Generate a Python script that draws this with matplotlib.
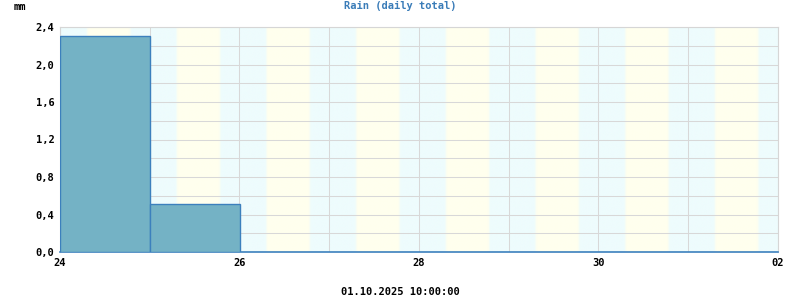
import numpy as np
import matplotlib.pyplot as plt

# daily rain totals, day 0 = 24.09.2025
rain_days = [0, 1]
rain_mm = [2.3, 0.51]
tick_pos = [0, 2, 4, 6, 8]
tick_labels = ["24", "26", "28", "30", "02"]
y_ticks = [0.0, 0.4, 0.8, 1.2, 1.6, 2.0, 2.4]
sunrise_h = 7.2
sunset_h = 18.8
n_days = 8

mono = "DejaVu Sans Mono"

fig = plt.figure(figsize=(8, 3), dpi=100)
ax = fig.add_axes([0.075, 0.16, 0.8975, 0.75])

# day / night background, soft edges
cols = 2000
t = np.linspace(0, n_days, cols)
h = (t % 1) * 24
fade = 0.6
w = np.clip((h - sunrise_h + fade / 2) / fade, 0, 1) * np.clip((sunset_h + fade / 2 - h) / fade, 0, 1)
night = np.array([238, 252, 253]) / 255
day = np.array([255, 255, 238]) / 255
img = night[None, :] * (1 - w[:, None]) + day[None, :] * w[:, None]
ax.imshow(img[None, :, :], extent=[0, n_days, 0, 2.4], aspect="auto", zorder=0, interpolation="bilinear")

ax.bar(rain_days, rain_mm, width=1, align="edge", color="#74b2c5", edgecolor="#3c80bd", linewidth=1, zorder=3)

ax.set_xlim(0, n_days)
ax.set_ylim(0, 2.4)
ax.set_xticks(tick_pos)
ax.set_xticklabels(tick_labels)
ax.set_xticks(range(n_days + 1), minor=True)
ax.set_yticks(y_ticks)
ax.set_yticklabels([f"{v:.1f}".replace(".", ",") for v in y_ticks])
ax.set_yticks(np.arange(0, 2.41, 0.2), minor=True)
ax.grid(True, which="both", color="#d8d8d8", linewidth=0.75)
for a in ax.get_xgridlines() + ax.get_ygridlines():
    a.set_zorder(1)
for a in ax.xaxis.get_minorticklines() + ax.yaxis.get_minorticklines():
    a.set_zorder(1)

ax.tick_params(length=0, which="both", labelsize=7.5, pad=4)
for lbl in ax.get_xticklabels() + ax.get_yticklabels():
    lbl.set_fontfamily(mono)
    lbl.set_fontweight("bold")

for s in ["top", "right", "left"]:
    ax.spines[s].set_color("#d6d6d6")
ax.spines["bottom"].set_color("#3c80bd")
ax.spines["bottom"].set_linewidth(1.2)

fig.text(0.5, 0.98, "Rain (daily total)", ha="center", va="center", color="#3a7cb8",
         fontsize=7.5, fontweight="bold", family=mono)
fig.text(0.0175, 0.975, "mm", ha="left", va="center", fontsize=7.5, fontweight="bold", family=mono)
fig.text(0.5, 0.027, "01.10.2025 10:00:00", ha="center", va="center", fontsize=7.5,
         fontweight="bold", family=mono)

fig.savefig("out.png", dpi=100)
